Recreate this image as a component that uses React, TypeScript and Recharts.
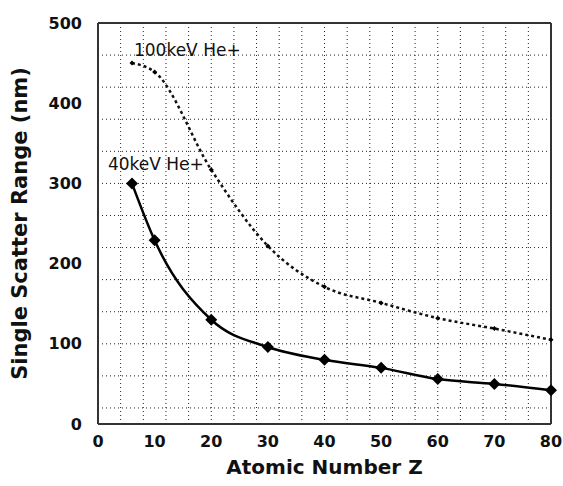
import React from "react";
import { LineChart, Line, XAxis, YAxis, CartesianGrid, ReferenceLine, LabelList, Label } from "recharts";

const atomicZ = [6, 10, 20, 30, 40, 50, 60, 70, 80];
const range40keV = [300, 229, 130, 96, 80, 70, 56, 50, 42];
const range100keV = [450, 439, 317, 222, 171, 151, 132, 119, 105];
const xTicks = [0, 10, 20, 30, 40, 50, 60, 70, 80];
const yTicks = [0, 100, 200, 300, 400, 500];
const xGrid = Array.from({ length: 41 }, (_, i) => i * 2);
const yGrid = Array.from({ length: 26 }, (_, i) => i * 20);

const data = atomicZ.map((z, i) => ({ z, r40: range40keV[i], r100: range100keV[i] }));

const FONT = "'DejaVu Sans', sans-serif";
const AXIS = "#333";

const Diamond = (size: number) => (props: any) => {
  const { cx, cy, index } = props;
  if (cx == null || cy == null) return <g key={index} />;
  return (
    <path
      key={index}
      d={`M${cx},${cy - size} L${cx + size},${cy} L${cx},${cy + size} L${cx - size},${cy} Z`}
      fill="#000"
    />
  );
};

const seriesLabel = (text: string, dx: number, dy: number) => (props: any) => {
  const { x, y, index } = props;
  if (index !== 0) return null;
  return (
    <text x={x + dx} y={y + dy} fontFamily={FONT} fontSize={17} fill="#111" textAnchor="start">
      {text}
    </text>
  );
};

export default function App() {
  return (
    <div style={{ position: "absolute", left: 0, top: 0, width: 563, height: 486 }}>
      <LineChart
        width={563}
        height={486}
        data={data}
        margin={{ top: 23, right: 12, left: 8, bottom: 8 }}
      >
        <XAxis xAxisId="grid" dataKey="z" type="number" domain={[0, 80]} ticks={xGrid} hide />
        <YAxis yAxisId="grid" dataKey="r40" type="number" domain={[0, 500]} ticks={yGrid} hide width={90} />
        <CartesianGrid xAxisId="grid" yAxisId="grid" stroke="#222" strokeDasharray="1 3" />
        <XAxis
          dataKey="z"
          type="number"
          domain={[0, 80]}
          ticks={xTicks}
          tickLine={false}
          axisLine={{ stroke: AXIS, strokeWidth: 2 }}
          tick={{ fontFamily: FONT, fontSize: 16, fontWeight: "bold", fill: "#111" }}
          tickMargin={6}
          height={54}
        >
          <Label value="Atomic Number Z" position="insideBottom" offset={4} style={{ fontFamily: FONT, fontSize: 20, fontWeight: "bold", fill: "#111" }} />
        </XAxis>
        <YAxis
          type="number"
          domain={[0, 500]}
          ticks={yTicks}
          tickLine={false}
          axisLine={{ stroke: AXIS, strokeWidth: 2 }}
          tick={{ fontFamily: FONT, fontSize: 16, fontWeight: "bold", fill: "#111" }}
          tickMargin={10}
          width={90}
        >
          <Label
            value="Single Scatter Range (nm)"
            angle={-90}
            position="insideLeft"
            offset={12}
            style={{ fontFamily: FONT, fontSize: 21, fontWeight: "bold", fill: "#111", textAnchor: "middle" }}
          />
        </YAxis>
        <ReferenceLine y={500} stroke={AXIS} strokeWidth={2} />
        <ReferenceLine x={80} stroke={AXIS} strokeWidth={2} />
        <Line
          dataKey="r100"
          type="monotone"
          stroke="#111"
          strokeWidth={2.5}
          strokeDasharray="3 3"
          dot={Diamond(2.5)}
          isAnimationActive={false}
        >
          <LabelList dataKey="r100" content={seriesLabel("100keV He+", 2, -7)} />
        </Line>
        <Line
          dataKey="r40"
          type="monotone"
          stroke="#000"
          strokeWidth={2.5}
          dot={Diamond(6)}
          isAnimationActive={false}
        >
          <LabelList dataKey="r40" content={seriesLabel("40keV He+", -24, -13)} />
        </Line>
      </LineChart>
    </div>
  );
}
